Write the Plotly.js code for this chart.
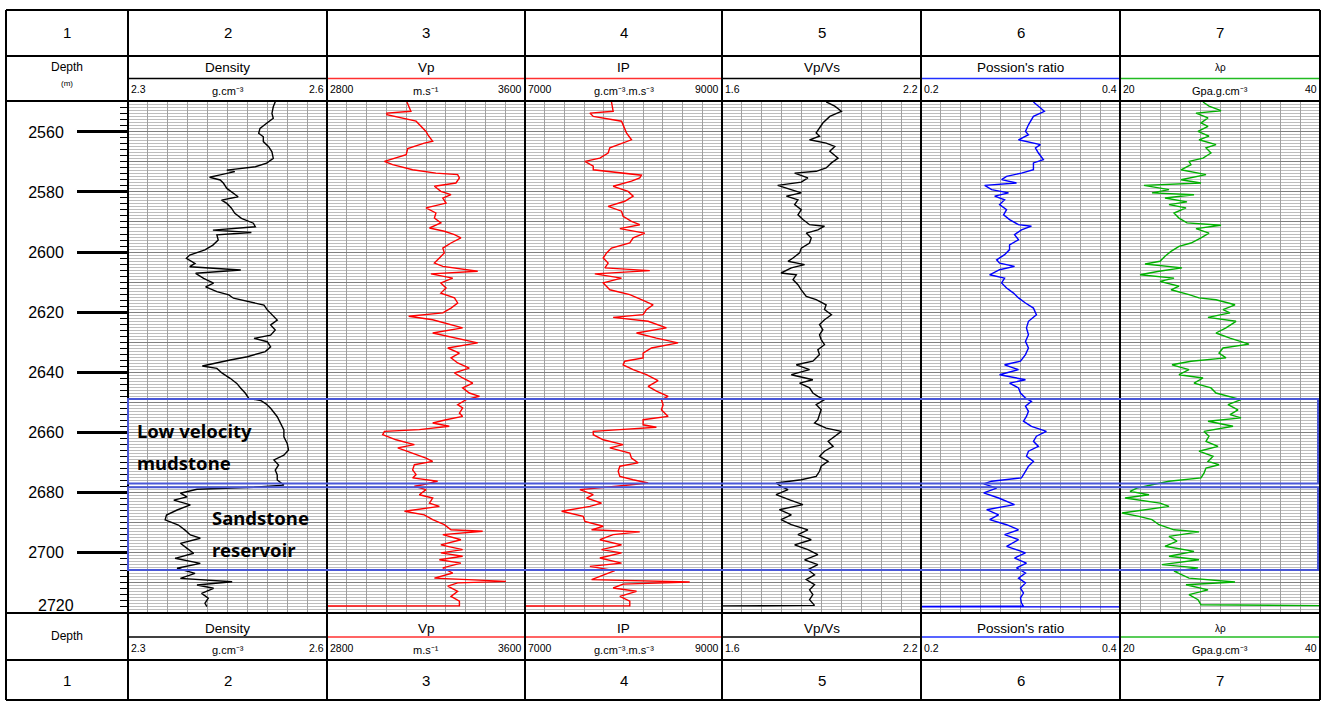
<!DOCTYPE html>
<html><head><meta charset="utf-8">
<script src="https://cdn.plot.ly/plotly-3.0.1.min.js"></script>
<style>html,body{margin:0;padding:0;background:#fff;overflow:hidden}</style>
</head><body><div id="chart" style="width:1323px;height:701px"></div>
<script>
// ---------------- DATA (depth m, value) ----------------
const densityLog = [[2549.9,2.522],[2551.6,2.519],[2553.8,2.517],[2555.4,2.519],[2557.1,2.509],[2558.8,2.499],[2560.4,2.497],[2561.6,2.504],[2563.2,2.504],[2564.9,2.512],[2566.6,2.517],[2568.8,2.519],[2570.4,2.509],[2571.6,2.492],[2572.7,2.449],[2573.2,2.461],[2574.3,2.439],[2575.1,2.423],[2576.0,2.439],[2577.1,2.444],[2578.8,2.449],[2580.4,2.459],[2581.6,2.466],[2582.7,2.441],[2583.8,2.449],[2585.4,2.456],[2587.1,2.461],[2588.8,2.471],[2590.4,2.489],[2591.6,2.492],[2592.7,2.428],[2593.5,2.486],[2594.3,2.434],[2596.0,2.436],[2597.7,2.428],[2599.3,2.416],[2601.0,2.393],[2602.1,2.388],[2603.8,2.401],[2604.9,2.393],[2606.0,2.470],[2607.1,2.402],[2608.8,2.414],[2610.4,2.429],[2611.6,2.417],[2613.2,2.434],[2614.3,2.452],[2615.4,2.459],[2616.6,2.485],[2617.7,2.505],[2619.3,2.510],[2621.0,2.517],[2622.7,2.525],[2624.3,2.515],[2626.0,2.522],[2627.7,2.515],[2628.8,2.490],[2629.9,2.510],[2631.6,2.515],[2633.2,2.507],[2634.9,2.480],[2636.0,2.454],[2637.1,2.429],[2638.0,2.412],[2638.8,2.434],[2640.4,2.442],[2642.1,2.454],[2643.8,2.464],[2645.4,2.470],[2647.1,2.477],[2648.8,2.482],[2649.5,2.500],[2650.6,2.508],[2652.1,2.515],[2654.9,2.525],[2657.1,2.530],[2659.3,2.535],[2661.6,2.535],[2663.8,2.540],[2666.0,2.542],[2667.7,2.535],[2669.3,2.520],[2671.0,2.527],[2672.7,2.522],[2674.3,2.525],[2676.0,2.525],[2677.7,2.535],[2678.4,2.490],[2679.1,2.404],[2680.4,2.379],[2681.6,2.389],[2682.7,2.369],[2684.3,2.394],[2686.0,2.374],[2687.7,2.358],[2689.3,2.356],[2691.0,2.376],[2692.7,2.386],[2694.3,2.394],[2695.4,2.409],[2697.1,2.379],[2698.8,2.389],[2700.4,2.399],[2702.1,2.371],[2703.8,2.409],[2705.4,2.374],[2707.1,2.401],[2708.8,2.379],[2709.9,2.457],[2711.0,2.404],[2712.1,2.429],[2713.8,2.411],[2715.4,2.421],[2717.1,2.416],[2718.2,2.419]];

const vpLog = [[2550,3123],[2553.1,3139],[2553.7,3042],[2554.2,3042],[2556.4,3160],[2557.6,3173],[2559.8,3200],[2560.9,3207],[2563.1,3227],[2563.7,3193],[2565.5,3126],[2567.6,3120],[2568.7,3072],[2569.8,3032],[2570.9,3065],[2572.6,3146],[2573.7,3240],[2574.2,3328],[2575.3,3335],[2577,3321],[2578.1,3234],[2579.8,3260],[2580.9,3301],[2582,3268],[2583.7,3281],[2585.3,3200],[2587,3240],[2588.7,3234],[2590.3,3260],[2592,3214],[2593.1,3274],[2594.2,3315],[2595.3,3341],[2597,3301],[2598.7,3268],[2600.3,3274],[2602,3254],[2603.7,3234],[2604.8,3268],[2606.4,3409],[2607.3,3220],[2608.7,3308],[2610.3,3260],[2612,3281],[2613.7,3260],[2615.3,3315],[2617,3328],[2618.7,3301],[2620.3,3268],[2621.4,3130],[2622.6,3227],[2624.2,3301],[2625.3,3348],[2627,3227],[2628.7,3321],[2630.3,3409],[2632,3288],[2633.7,3335],[2635.3,3301],[2637,3328],[2638.7,3375],[2640.3,3315],[2642,3348],[2643.7,3389],[2645.3,3348],[2647,3375],[2648.1,3416],[2649.2,3362],[2650.9,3328],[2652,3348],[2653.7,3335],[2654.8,3348],[2655.9,3281],[2657,3227],[2658.1,3294],[2659.2,3173],[2659.8,3032],[2660.9,3025],[2662.6,3079],[2664.2,3153],[2665.3,3086],[2667,3146],[2668.7,3200],[2669.8,3227],[2670.9,3153],[2672.6,3146],[2674.2,3160],[2675.3,3146],[2676.4,3247],[2677.6,3187],[2678.1,3153],[2679.2,3200],[2680.9,3173],[2682,3227],[2683.7,3214],[2684.8,3254],[2686.4,3113],[2687.6,3193],[2689.2,3227],[2690.9,3274],[2692.6,3301],[2693.1,3429],[2694.2,3268],[2695.9,3341],[2697.6,3260],[2699.2,3348],[2700.3,3260],[2701.4,3348],[2702.6,3254],[2703.7,3341],[2705.3,3268],[2707,3308],[2708.7,3234],[2709.8,3523],[2710.3,3328],[2711.4,3288],[2713.1,3328],[2714.8,3301],[2716.4,3335],[2717.9,3335],[2718.0,2700]];

const ipLog = [[2550,7878],[2553.1,7895],[2553.7,7659],[2554.8,7693],[2556.4,7980],[2558.7,8013],[2560.3,8030],[2562.6,8081],[2563.7,7996],[2565.3,7861],[2567,7844],[2568.7,7760],[2569.8,7608],[2571.4,7693],[2572.6,7693],[2573.7,8030],[2574.4,8182],[2575.3,8165],[2576.4,8081],[2578.1,7895],[2579.8,8047],[2581.4,8098],[2583.1,8013],[2584.8,7844],[2586.4,7980],[2588.1,7996],[2589.8,8081],[2590.9,8165],[2592.2,7963],[2593.7,8216],[2595.3,8098],[2597,8064],[2598.7,7878],[2600.3,7828],[2602,7794],[2603.7,7844],[2605.3,7811],[2606.2,8267],[2607.3,7709],[2608.7,7980],[2610.3,7794],[2612.6,7861],[2614.2,8064],[2615.9,8182],[2617.6,8301],[2619.2,8233],[2620.9,8199],[2621.8,7895],[2623.1,8250],[2625.3,8436],[2627,8132],[2628.7,8334],[2630.3,8554],[2632,8284],[2633.7,8199],[2635.3,8199],[2636.4,8013],[2637.6,7996],[2639.2,8098],[2640.9,8233],[2642.9,8351],[2644.8,8250],[2646.4,8334],[2648.1,8453],[2649.2,8385],[2650.9,8402],[2652.6,8385],[2654.8,8453],[2655.9,8199],[2657.6,8199],[2658.4,8334],[2659.2,7963],[2659.8,7693],[2660.9,7693],[2662.6,7794],[2664.2,7996],[2665.3,7861],[2667,8064],[2668.7,8081],[2670.3,8149],[2671.4,7963],[2673.1,7946],[2674.8,7963],[2675.9,8098],[2677,8250],[2678.1,7929],[2679.2,7557],[2680.9,7693],[2682,7625],[2683.7,7777],[2684.8,7659],[2686.4,7372],[2688.1,7591],[2689.8,7608],[2691.4,7794],[2692.6,7676],[2693.3,8165],[2694.2,7895],[2695.9,7760],[2697.6,7980],[2699.2,7777],[2700.3,7980],[2702,7760],[2703.7,7980],[2704.8,7659],[2706.2,7912],[2707.6,7794],[2709.2,7676],[2710,8672],[2710.7,7996],[2712,7895],[2713.1,8132],[2714.8,7963],[2716.4,8064],[2717.9,8064],[2718,6900]];

const vpvsLog = [[2550.0,1.914],[2551.4,1.940],[2553.1,1.960],[2554.8,1.925],[2557.0,1.904],[2558.7,1.894],[2560.3,1.884],[2561.4,1.894],[2562.6,1.864],[2563.7,1.914],[2564.8,1.940],[2566.4,1.925],[2568.7,1.950],[2570.3,1.930],[2572.0,1.914],[2573.1,1.884],[2573.7,1.819],[2575.3,1.859],[2576.7,1.839],[2577.8,1.768],[2579.2,1.804],[2580.3,1.839],[2581.4,1.794],[2582.6,1.829],[2584.2,1.819],[2585.9,1.839],[2587.6,1.829],[2589.2,1.844],[2590.9,1.864],[2591.4,1.909],[2592.6,1.889],[2593.7,1.854],[2595.3,1.869],[2597.0,1.864],[2598.7,1.839],[2600.3,1.834],[2602.0,1.814],[2603.1,1.799],[2604.2,1.849],[2605.3,1.809],[2607.0,1.778],[2607.6,1.824],[2609.2,1.814],[2610.9,1.829],[2612.6,1.839],[2614.8,1.854],[2615.9,1.884],[2617.6,1.914],[2619.2,1.909],[2620.9,1.930],[2622.6,1.909],[2624.2,1.894],[2625.9,1.904],[2627.6,1.894],[2629.2,1.899],[2630.9,1.909],[2632.6,1.889],[2634.2,1.894],[2636.4,1.874],[2637.6,1.824],[2639.2,1.864],[2640.9,1.809],[2642.6,1.874],[2643.7,1.834],[2645.3,1.864],[2647.0,1.874],[2648.1,1.889],[2649.2,1.909],[2650.9,1.884],[2652.6,1.899],[2654.2,1.894],[2655.9,1.889],[2657.0,1.879],[2658.7,1.914],[2659.8,1.960],[2661.4,1.940],[2663.1,1.920],[2664.8,1.935],[2666.4,1.909],[2668.1,1.894],[2669.8,1.920],[2671.4,1.899],[2673.1,1.894],[2674.8,1.884],[2675.9,1.839],[2677.0,1.763],[2678.1,1.778],[2679.2,1.799],[2680.9,1.763],[2682.6,1.804],[2684.2,1.844],[2685.9,1.773],[2687.6,1.809],[2689.2,1.778],[2690.9,1.809],[2692.6,1.859],[2694.2,1.829],[2695.9,1.869],[2697.6,1.819],[2699.2,1.859],[2700.9,1.889],[2702.6,1.849],[2704.2,1.889],[2705.9,1.859],[2707.6,1.879],[2709.2,1.854],[2710.9,1.879],[2712.6,1.864],[2714.2,1.874],[2715.9,1.864],[2717.8,1.879],[2718.0,1.55]];

const poissonLog = [[2550.0,0.313],[2553.1,0.324],[2554.8,0.313],[2557.6,0.308],[2559.8,0.305],[2560.9,0.308],[2562.6,0.298],[2564.2,0.320],[2565.3,0.315],[2567.0,0.318],[2569.2,0.323],[2570.3,0.313],[2572.6,0.313],[2573.7,0.301],[2574.8,0.286],[2575.9,0.281],[2577.0,0.296],[2577.8,0.264],[2579.2,0.271],[2580.3,0.288],[2581.4,0.274],[2582.6,0.284],[2584.2,0.279],[2585.9,0.286],[2587.6,0.283],[2589.2,0.289],[2590.9,0.298],[2591.4,0.311],[2592.6,0.301],[2594.2,0.294],[2595.9,0.298],[2597.6,0.289],[2599.2,0.289],[2600.9,0.284],[2602.6,0.276],[2603.7,0.279],[2604.8,0.294],[2605.9,0.279],[2607.6,0.269],[2608.7,0.284],[2610.3,0.281],[2612.0,0.286],[2613.7,0.293],[2615.3,0.298],[2617.0,0.305],[2618.7,0.313],[2620.9,0.316],[2623.1,0.308],[2625.3,0.306],[2627.6,0.308],[2629.8,0.305],[2632.0,0.308],[2634.2,0.305],[2636.4,0.300],[2637.6,0.284],[2639.2,0.298],[2640.9,0.279],[2642.6,0.305],[2643.7,0.289],[2645.3,0.298],[2647.0,0.300],[2648.7,0.305],[2649.8,0.311],[2651.4,0.305],[2653.1,0.308],[2654.8,0.306],[2656.4,0.303],[2658.1,0.311],[2659.8,0.326],[2661.4,0.316],[2663.1,0.313],[2664.8,0.318],[2666.4,0.308],[2668.1,0.306],[2669.8,0.313],[2671.4,0.308],[2673.1,0.305],[2675.3,0.301],[2676.4,0.271],[2677.3,0.263],[2678.7,0.276],[2680.3,0.263],[2682.0,0.278],[2684.2,0.294],[2685.9,0.266],[2687.6,0.278],[2689.2,0.269],[2690.9,0.286],[2692.6,0.298],[2694.2,0.284],[2695.9,0.298],[2698.1,0.286],[2700.3,0.305],[2702.0,0.294],[2703.7,0.306],[2705.3,0.296],[2707.0,0.305],[2708.7,0.298],[2710.3,0.305],[2712.0,0.300],[2713.7,0.303],[2715.3,0.300],[2717.0,0.301],[2718.1,0.303],[2718.2,0.1],[2718.3,0.5]];

const lambdaRhoLog = [[2550.0,28.3],[2551.4,28.9],[2552.9,30.1],[2553.7,27.6],[2555.3,28.8],[2557.0,28.1],[2558.1,28.8],[2559.8,27.8],[2561.4,28.9],[2562.6,27.9],[2564.2,29.6],[2565.3,28.6],[2567.0,29.1],[2568.7,28.3],[2569.8,26.9],[2570.9,27.1],[2572.6,26.1],[2574.2,28.6],[2575.9,26.1],[2577.0,28.1],[2577.8,22.4],[2579.2,24.9],[2580.3,23.2],[2580.9,27.4],[2582.0,24.5],[2583.3,26.7],[2584.2,24.9],[2585.3,26.6],[2587.0,25.4],[2588.7,25.9],[2590.3,26.7],[2591.1,30.1],[2592.2,27.6],[2593.7,28.9],[2595.3,28.1],[2597.0,27.1],[2598.1,25.9],[2599.8,25.1],[2601.4,24.5],[2603.1,24.0],[2604.0,22.5],[2605.3,26.2],[2606.4,23.9],[2607.6,22.0],[2608.7,25.4],[2609.8,24.0],[2611.4,25.9],[2612.6,25.1],[2614.2,26.9],[2615.3,27.9],[2615.9,29.6],[2617.6,31.5],[2619.2,30.3],[2620.3,31.0],[2621.8,28.8],[2623.1,31.6],[2625.3,30.6],[2627.0,29.6],[2628.7,31.0],[2630.7,32.9],[2632.0,30.3],[2633.7,29.9],[2635.3,30.6],[2636.4,27.1],[2637.6,25.2],[2639.2,26.9],[2640.9,25.9],[2642.0,28.3],[2643.7,27.4],[2645.3,29.1],[2647.0,29.6],[2648.1,31.0],[2649.2,32.1],[2650.9,30.8],[2652.6,31.8],[2654.2,31.0],[2655.3,32.1],[2656.4,28.8],[2658.1,31.3],[2659.8,28.4],[2661.4,28.9],[2663.1,28.6],[2664.8,29.8],[2666.4,27.9],[2668.1,29.3],[2669.8,28.8],[2670.9,29.9],[2672.0,28.6],[2673.7,28.4],[2675.3,28.1],[2676.4,24.9],[2677.6,23.2],[2678.7,21.7],[2679.8,21.0],[2680.9,22.9],[2682.0,20.5],[2683.7,24.0],[2684.8,24.9],[2687.0,20.2],[2688.1,21.9],[2689.2,23.2],[2690.9,23.9],[2692.6,25.4],[2693.3,27.9],[2694.8,24.9],[2696.4,25.7],[2698.1,24.5],[2699.8,27.4],[2701.4,24.9],[2702.6,27.9],[2704.2,24.2],[2705.3,27.8],[2706.4,25.4],[2708.7,26.9],[2710.0,31.5],[2710.9,26.6],[2712.6,28.8],[2714.2,26.9],[2715.9,27.8],[2717.6,28.1],[2718.0,45]];

const trackNames = ["Density","Vp","IP","Vp/Vs","Possion's ratio","λρ"];
const trackMin = [2.3,2800,7000,1.6,0.2,20];
const trackMax = [2.6,3600,9000,2.2,0.4,40];
const trackMinLabel = ["2.3","2800","7000","1.6","0.2","20"];
const trackMaxLabel = ["2.6","3600","9000","2.2","0.4","40"];
const trackUnits = ["g.cm⁻³","m.s⁻¹","g.cm⁻³.m.s⁻³","","","Gpa.g.cm⁻³"];
const columnNumbers = ["1","2","3","4","5","6","7"];
const depthRange = [2720.33, 2549.67];
const depthLabelTicks = [2560,2580,2600,2620,2640,2660,2680,2700];
const lastDepthLabel = "2720";
const zoneTop = [2649.0, 2678.4];
const zoneBottom = [2677.2, 2706.0];
const zoneText = [["Low velocity","mudstone"],["Sandstone","reservoir"]];

// ---------------- STYLE / LAYOUT ----------------
const W = 1323, H = 701;
const FONT = 'Liberation Sans, Arial, sans-serif';
const colX = [6,128,327,525,722,921,1120,1320];
const trackTop = 101, trackBot = 613;
const trackColors = ['#000000','#ff0000','#ff0000','#000000','#0000ff','#00b000'];
const headerLineColors = ['#000000','#ff3030','#ff3030','#000000','#2030ff','#22bb22'];
const curveLogs = [densityLog, vpLog, ipLog, vpvsLog, poissonLog, lambdaRhoLog];
const xp = px => px / W;
const yp = px => 1 - px / H;

const traces = [];
const layout = {
  width: W, height: H, margin: {l:0,r:0,t:0,b:0},
  paper_bgcolor: '#ffffff', plot_bgcolor: '#ffffff', showlegend: false,
  annotations: [], shapes: []
};

for (let i = 0; i < 6; i++) {
  const xs = i === 0 ? '' : String(i+1);
  const xName = 'x' + xs, yName = 'y' + xs;
  layout['xaxis' + xs] = {
    domain: [xp(colX[i+1]), xp(colX[i+2])], anchor: yName,
    range: [trackMin[i], trackMax[i]], tick0: trackMin[i], dtick: (trackMax[i]-trackMin[i])/10,
    showgrid: true, gridcolor: '#a0a0a0', gridwidth: 1,
    showticklabels: false, ticks: '', zeroline: false, showline: false, fixedrange: true
  };
  layout['yaxis' + xs] = {
    domain: [yp(trackBot), yp(trackTop)], anchor: xName,
    range: depthRange, tick0: 2550, dtick: 10,
    showgrid: true, gridcolor: '#808080', gridwidth: 1,
    minor: {tick0: 2550, dtick: 1, showgrid: true, gridcolor: '#bdbdbd', gridwidth: 1},
    showticklabels: false, ticks: '', zeroline: false, showline: false, fixedrange: true
  };
  const log = curveLogs[i];
  traces.push({
    type: 'scatter', mode: 'lines', xaxis: xName, yaxis: yName,
    x: log.map(p => p[1]), y: log.map(p => p[0]),
    line: {color: trackColors[i], width: 1.4}, hoverinfo: 'skip', showlegend: false
  });
}

// depth axis (ticks on left of track 2)
layout.yaxis7 = {
  overlaying: 'y', anchor: 'x', side: 'left', range: depthRange,
  tickmode: 'array', tickvals: depthLabelTicks, ticktext: depthLabelTicks.map(String),
  ticks: 'outside', ticklen: 50, tickwidth: 3, tickcolor: '#000', ticklabelstandoff: 10,
  tickfont: {family: FONT, size: 16, color: '#000'},
  showgrid: false, zeroline: false, showline: false, fixedrange: true,
  minor: {ticks: 'outside', ticklen: 7, tickwidth: 1, tickcolor: '#000', tickmode: 'linear', tick0: 2550, dtick: 2, showgrid: false}
};
traces.push({type:'scatter', mode:'lines', x:[null], y:[null], xaxis:'x', yaxis:'y7', hoverinfo:'skip', showlegend:false});

function addText(text, x, y, size, xanchor, extra) {
  layout.annotations.push(Object.assign({
    text: text, x: xp(x), y: yp(y), xref: 'paper', yref: 'paper',
    xanchor: xanchor || 'center', yanchor: 'middle', showarrow: false,
    font: {family: FONT, size: size, color: '#000'}
  }, extra || {}));
}
function addLine(x0, y0, x1, y1, color, width) {
  layout.shapes.push({type:'line', xref:'paper', yref:'paper', x0:xp(x0), y0:yp(y0), x1:xp(x1), y1:yp(y1),
    line:{color: color, width: width}, layer:'above'});
}

// column numbers
for (let c = 0; c < 7; c++) {
  const cx = (colX[c] + colX[c+1]) / 2;
  addText(columnNumbers[c], cx, 33, 15);
  addText(columnNumbers[c], cx, 680, 15);
}
// depth header
addText('Depth', 67, 67, 12);
addText('(m)', 67, 84, 8);
addText('Depth', 67, 636, 12);
addText(lastDepthLabel, 76, 605, 16, 'right');

// track headers
for (let i = 0; i < 6; i++) {
  const l = colX[i+1], r = colX[i+2], cx = (l + r) / 2;
  const ns = i === 5 ? 10 : 13.5;
  [[68, 78.5, 89, 91], [628, 637, 648, 650]].forEach(rw => {
    addText(trackNames[i], cx, rw[0], ns);
    addLine(l, rw[1], r, rw[1], headerLineColors[i], 1.5);
    addText(trackMinLabel[i], l + 1, rw[2], 10.5, 'left');
    addText(trackMaxLabel[i], r - 1, rw[2], 10.5, 'right');
    if (trackUnits[i]) addText(trackUnits[i], cx, rw[3], 11);
  });
}

// table borders
[10, 56, 101, 613, 660, 700].forEach(y => addLine(colX[0], y, colX[7], y, '#000', 2));
colX.forEach(x => addLine(x, 10, x, 700, '#000', 2));

// zone rectangles
for (let z = 0; z < zoneTop.length; z++) {
  layout.shapes.push({type:'rect', xref:'paper', yref:'y', x0:xp(128), x1:xp(1318), y0:zoneTop[z], y1:zoneBottom[z],
    line:{color:'#4a58d8', width:2}, fillcolor:'rgba(0,0,0,0)', layer:'above'});
}
const zoneFont = {family:'Noto Sans, Open Sans, sans-serif', size:18.5, color:'#000', weight:'bold'};
addText(zoneText[0][0], 135, 430, 18.5, 'left', {font:zoneFont});
addText(zoneText[0][1], 135, 462, 18.5, 'left', {font:zoneFont});
addText(zoneText[1][0], 210, 517, 18.5, 'left', {font:zoneFont});
addText(zoneText[1][1], 210, 549, 18.5, 'left', {font:zoneFont});

Plotly.newPlot('chart', traces, layout, {displayModeBar:false, staticPlot:true});
</script>
</body></html>
